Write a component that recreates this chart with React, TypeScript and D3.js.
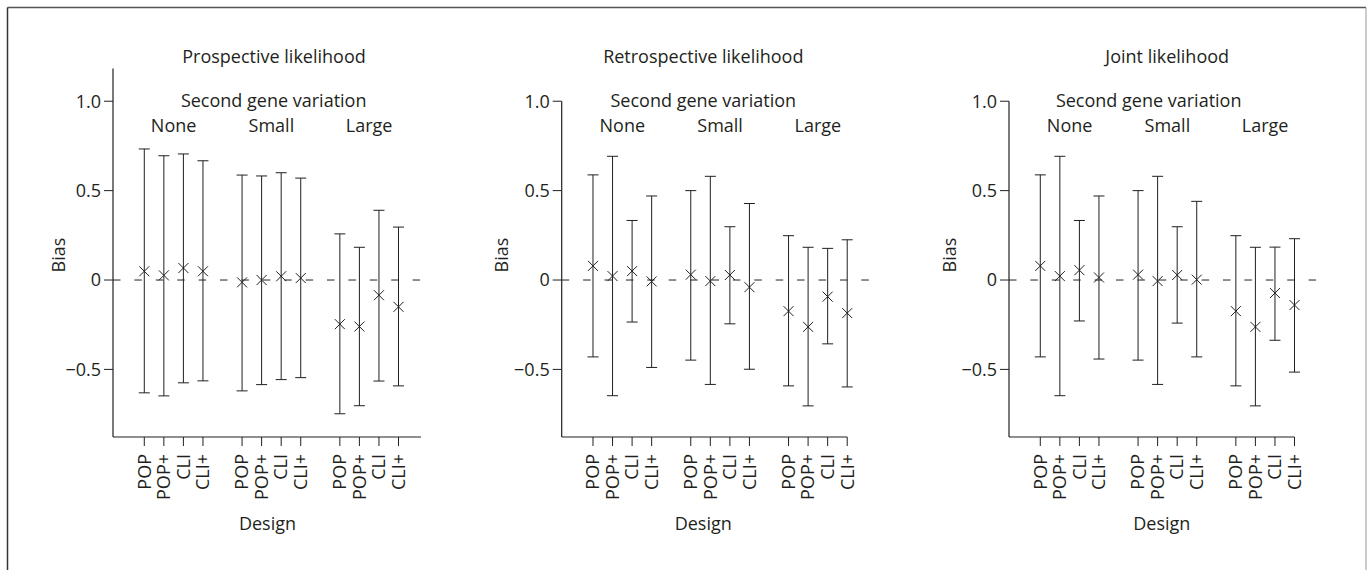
import React from 'react';
import * as d3 from 'd3';

const designs = ['POP', 'POP+', 'CLI', 'CLI+'];
const variations = ['None', 'Small', 'Large'];
const panelTitles = ['Prospective likelihood', 'Retrospective likelihood', 'Joint likelihood'];
const yTicks = [1.0, 0.5, 0, -0.5];
const yTickLabels = ['1.0', '0.5', '0', '\u22120.5'];

// 12 points per panel: None (POP, POP+, CLI, CLI+), Small (...), Large (...)
const prospectiveMean = [0.049, 0.026, 0.067, 0.049, -0.013, 0, 0.021, 0.011, -0.247, -0.26, -0.085, -0.15];
const prospectiveLower = [-0.631, -0.648, -0.575, -0.564, -0.62, -0.585, -0.557, -0.546, -0.748, -0.703, -0.565, -0.592];
const prospectiveUpper = [0.733, 0.695, 0.705, 0.667, 0.587, 0.582, 0.6, 0.57, 0.258, 0.183, 0.39, 0.296];

const retrospectiveMean = [0.079, 0.022, 0.05, -0.008, 0.03, -0.006, 0.028, -0.04, -0.174, -0.262, -0.093, -0.185];
const retrospectiveLower = [-0.43, -0.647, -0.235, -0.489, -0.448, -0.584, -0.245, -0.499, -0.592, -0.704, -0.357, -0.598];
const retrospectiveUpper = [0.588, 0.692, 0.333, 0.47, 0.5, 0.58, 0.298, 0.428, 0.248, 0.183, 0.177, 0.225];

const jointMean = [0.079, 0.022, 0.055, 0.014, 0.03, -0.006, 0.028, 0.002, -0.174, -0.262, -0.073, -0.14];
const jointLower = [-0.43, -0.647, -0.229, -0.442, -0.448, -0.584, -0.241, -0.43, -0.592, -0.704, -0.337, -0.515];
const jointUpper = [0.588, 0.692, 0.333, 0.47, 0.5, 0.58, 0.298, 0.44, 0.248, 0.183, 0.184, 0.231];

const panelData = [
  { mean: prospectiveMean, lower: prospectiveLower, upper: prospectiveUpper },
  { mean: retrospectiveMean, lower: retrospectiveLower, upper: retrospectiveUpper },
  { mean: jointMean, lower: jointLower, upper: jointUpper },
];

// layout of each panel (pixel positions, not data)
const layout = [
  { x0: 113, titleX: 274, subX: 273.7, designX: 267.5, biasX: 58.3, tallAxis: true },
  { x0: 561.7, titleX: 703.3, subX: 703.3, designX: 703.2, biasX: 501.7, tallAxis: false },
  { x0: 1009, titleX: 1167.2, subX: 1148.7, designX: 1161.8, biasX: 949.3, tallAxis: false },
];

const W = 1367;
const H = 570;
const ink = '#231f20';
const font = "'Open Sans', 'Noto Sans', sans-serif";
const fs = 18;

const y = d3.scaleLinear().domain([-0.878, 1.183]).range([437, 68.5]);
const xs = d3.scaleLinear().domain([-1.6, 14.15]).range([0, 308]);

const slot = (g: number, i: number) => g * 5 + i;

function Panel({ idx }: { idx: number }) {
  const L = layout[idx];
  const d = panelData[idx];
  const x = (s: number) => L.x0 + xs(s);
  const pts: { s: number; m: number; lo: number; hi: number; label: string }[] = [];
  variations.forEach((v, g) => {
    designs.forEach((ds, i) => {
      const k = g * 4 + i;
      pts.push({ s: slot(g, i), m: d.mean[k], lo: d.lower[k], hi: d.upper[k], label: ds });
    });
  });
  const axisRight = L.tallAxis ? x(xs.domain()[1]) : x(slot(2, 3));
  const axisTop = L.tallAxis ? y(y.domain()[1]) : y(1.0);
  const xBase = y(y.domain()[0]);
  const mk = 5;
  const cap = 5.5;

  return (
    <g>
      <text x={L.titleX} y={62.5} textAnchor="middle" fontSize={fs}>{panelTitles[idx]}</text>
      <text x={L.subX} y={106.5} textAnchor="middle" fontSize={fs}>Second gene variation</text>
      {variations.map((v, g) => (
        <text key={v} x={(x(slot(g, 0)) + x(slot(g, 3))) / 2} y={131.5} textAnchor="middle" fontSize={fs}>{v}</text>
      ))}

      {/* zero reference */}
      <line x1={L.x0} x2={L.x0 + xs.range()[1]} y1={y(0)} y2={y(0)} stroke={ink} strokeWidth={1} strokeDasharray="7.5 13.9" />

      {/* y axis */}
      <line x1={L.x0} x2={L.x0} y1={axisTop} y2={xBase} stroke={ink} strokeWidth={1.2} />
      {yTicks.map((t, i) => (
        <g key={t}>
          <line x1={L.x0 - 9} x2={L.x0} y1={y(t)} y2={y(t)} stroke={ink} strokeWidth={1} />
          <text x={L.x0 - 12} y={y(t)} dy="0.35em" textAnchor="end" fontSize={fs}>{yTickLabels[i]}</text>
        </g>
      ))}
      <text transform={`translate(${L.biasX},${y(0) - 25}) rotate(-90)`} textAnchor="middle" dy="0.35em" fontSize={fs}>Bias</text>

      {/* x axis */}
      <line x1={L.x0} x2={axisRight} y1={xBase} y2={xBase} stroke={ink} strokeWidth={1.2} />
      {pts.map((p, i) => (
        <g key={'t' + i}>
          <line x1={x(p.s)} x2={x(p.s)} y1={xBase} y2={xBase + 9} stroke={ink} strokeWidth={1} />
          <text transform={`translate(${x(p.s)},${xBase + 17}) rotate(-90)`} textAnchor="end" dy="0.35em" fontSize={fs}>{p.label}</text>
        </g>
      ))}
      <text x={L.designX} y={530} textAnchor="middle" fontSize={fs}>Design</text>

      {/* error bars */}
      {pts.map((p, i) => {
        const cx = x(p.s);
        const cy = y(p.m);
        return (
          <g key={'e' + i} stroke={ink} strokeWidth={1}>
            <line x1={cx} x2={cx} y1={y(p.hi)} y2={y(p.lo)} />
            <line x1={cx - cap} x2={cx + cap} y1={y(p.hi)} y2={y(p.hi)} />
            <line x1={cx - cap} x2={cx + cap} y1={y(p.lo)} y2={y(p.lo)} />
            <line x1={cx - mk} x2={cx + mk} y1={cy - mk} y2={cy + mk} />
            <line x1={cx - mk} x2={cx + mk} y1={cy + mk} y2={cy - mk} />
          </g>
        );
      })}
    </g>
  );
}

export default function App() {
  return (
    <svg width={W} height={H} style={{ position: 'absolute', left: 0, top: 0, background: '#fff' }}
      fontFamily={font} fill={ink}>
      <rect x={0} y={0} width={W} height={H} fill="#fff" />
      <line x1={7.5} x2={1366} y1={7.5} y2={7.5} stroke="#555" strokeWidth={1.5} />
      <line x1={7.5} x2={7.5} y1={7.5} y2={H} stroke="#333" strokeWidth={1.5} />
      <line x1={1366} x2={1366} y1={7.5} y2={H} stroke="#999" strokeWidth={1} />
      {panelTitles.map((t, i) => <Panel key={t} idx={i} />)}
    </svg>
  );
}
